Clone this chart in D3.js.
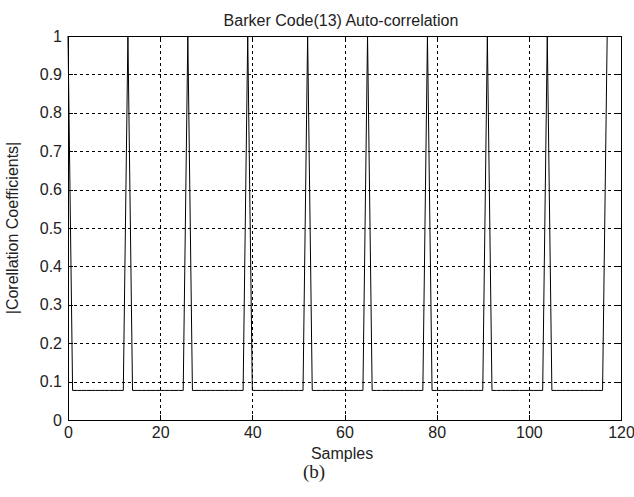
<!DOCTYPE html>
<html>
<head>
<meta charset="utf-8">
<script src="https://cdn.jsdelivr.net/npm/d3@7"></script>
<style>
  html, body { margin: 0; padding: 0; background: #fff; }
  svg { display: block; }
  text { font-family: "Liberation Sans", Arial, Helvetica, sans-serif; fill: #222; }
</style>
</head>
<body>
<svg id="chart" width="634" height="497"></svg>
<script>
const titleText = "Barker Code(13) Auto-correlation";
const xLabelText = "Samples";
const yLabelText = "|Corellation Coefficients|";
const captionText = "(b)";

const xTicks = [0, 20, 40, 60, 80, 100, 120];
const yTicks = [0, 0.1, 0.2, 0.3, 0.4, 0.5, 0.6, 0.7, 0.8, 0.9, 1];
const yTickLabels = ["0", "0.1", "0.2", "0.3", "0.4", "0.5", "0.6", "0.7", "0.8", "0.9", "1"];

// |correlation coefficient| per sample, samples 0..117
const coeffs = [
  1, 0.077, 0.077, 0.077, 0.077, 0.077, 0.077, 0.077, 0.077, 0.077, 0.077, 0.077, 0.077,
  1, 0.077, 0.077, 0.077, 0.077, 0.077, 0.077, 0.077, 0.077, 0.077, 0.077, 0.077, 0.077,
  1, 0.077, 0.077, 0.077, 0.077, 0.077, 0.077, 0.077, 0.077, 0.077, 0.077, 0.077, 0.077,
  1, 0.077, 0.077, 0.077, 0.077, 0.077, 0.077, 0.077, 0.077, 0.077, 0.077, 0.077, 0.077,
  1, 0.077, 0.077, 0.077, 0.077, 0.077, 0.077, 0.077, 0.077, 0.077, 0.077, 0.077, 0.077,
  1, 0.077, 0.077, 0.077, 0.077, 0.077, 0.077, 0.077, 0.077, 0.077, 0.077, 0.077, 0.077,
  1, 0.077, 0.077, 0.077, 0.077, 0.077, 0.077, 0.077, 0.077, 0.077, 0.077, 0.077, 0.077,
  1, 0.077, 0.077, 0.077, 0.077, 0.077, 0.077, 0.077, 0.077, 0.077, 0.077, 0.077, 0.077,
  1, 0.077, 0.077, 0.077, 0.077, 0.077, 0.077, 0.077, 0.077, 0.077, 0.077, 0.077, 0.077,
  1
];

const svg = d3.select("#chart");
const W = 634, H = 497;
const m = { left: 68, right: 13, top: 36, bottom: 77 };
const iw = W - m.left - m.right, ih = H - m.top - m.bottom;

const x = d3.scaleLinear().domain([0, 120]).range([m.left, m.left + iw]);
const y = d3.scaleLinear().domain([0, 1]).range([m.top + ih, m.top]);

const g = svg.append("g");

// grid
const grid = g.append("g").attr("stroke", "#000").attr("stroke-width", 1)
  .attr("stroke-dasharray", "3,3").attr("shape-rendering", "crispEdges");
grid.selectAll("line.gx").data(xTicks.slice(1, -1)).join("line")
  .attr("x1", d => Math.round(x(d)) + 0.5).attr("x2", d => Math.round(x(d)) + 0.5)
  .attr("y1", y(0)).attr("y2", y(1));
grid.selectAll("line.gy").data(yTicks.slice(1, -1)).join("line")
  .attr("y1", d => Math.round(y(d)) + 0.5).attr("y2", d => Math.round(y(d)) + 0.5)
  .attr("x1", x(0)).attr("x2", x(120));

// data line
const line = d3.line().x((d, i) => x(i)).y(d => y(d));
g.append("path").datum(coeffs).attr("d", line)
  .attr("fill", "none").attr("stroke", "#000").attr("stroke-width", 1);

// axes (MATLAB style: ticks inside, box)
const fs = 16;
const xAxis = d3.axisBottom(x).tickValues(xTicks).tickSizeInner(-5).tickSizeOuter(0).tickPadding(7).tickFormat(d3.format("d"));
const yAxis = d3.axisLeft(y).tickValues(yTicks).tickSizeInner(-5).tickSizeOuter(0).tickPadding(6).tickFormat((d, i) => yTickLabels[i]);
const xTop = d3.axisTop(x).tickValues(xTicks).tickSizeInner(-5).tickSizeOuter(0).tickFormat("");
const yRight = d3.axisRight(y).tickValues(yTicks).tickSizeInner(-5).tickSizeOuter(0).tickFormat("");

function style(sel) {
  sel.selectAll("path").attr("stroke", "#000").attr("shape-rendering", "crispEdges");
  sel.selectAll("line").attr("stroke", "#000").attr("shape-rendering", "crispEdges");
  sel.selectAll("text").attr("font-size", fs).attr("fill", "#222")
    .style("font-family", '"Liberation Sans", Arial, Helvetica, sans-serif');
}
g.append("g").attr("transform", `translate(0,${m.top + ih})`).call(xAxis).call(style);
g.append("g").attr("transform", `translate(${m.left},0)`).call(yAxis).call(style);
g.append("g").attr("transform", `translate(0,${m.top})`).call(xTop).call(style);
g.append("g").attr("transform", `translate(${m.left + iw},0)`).call(yRight).call(style);

// frame
g.append("rect").attr("x", m.left + 0.5).attr("y", m.top + 0.5).attr("width", iw).attr("height", ih)
  .attr("fill", "none").attr("stroke", "#000").attr("shape-rendering", "crispEdges");

// texts
svg.append("text").attr("x", 341).attr("y", 26).attr("text-anchor", "middle")
  .attr("font-size", fs).text(titleText);
svg.append("text").attr("x", 342).attr("y", 459).attr("text-anchor", "middle")
  .attr("font-size", fs).text(xLabelText);
svg.append("text").attr("transform", `translate(18,${m.top + ih / 2}) rotate(-90)`).attr("text-anchor", "middle")
  .attr("font-size", fs).text(yLabelText);
svg.append("text").attr("x", 314).attr("y", 478).attr("text-anchor", "middle")
  .attr("font-size", 19).style("font-family", '"Liberation Serif", "Times New Roman", serif').attr("fill", "#000")
  .text(captionText);
</script>
</body>
</html>
